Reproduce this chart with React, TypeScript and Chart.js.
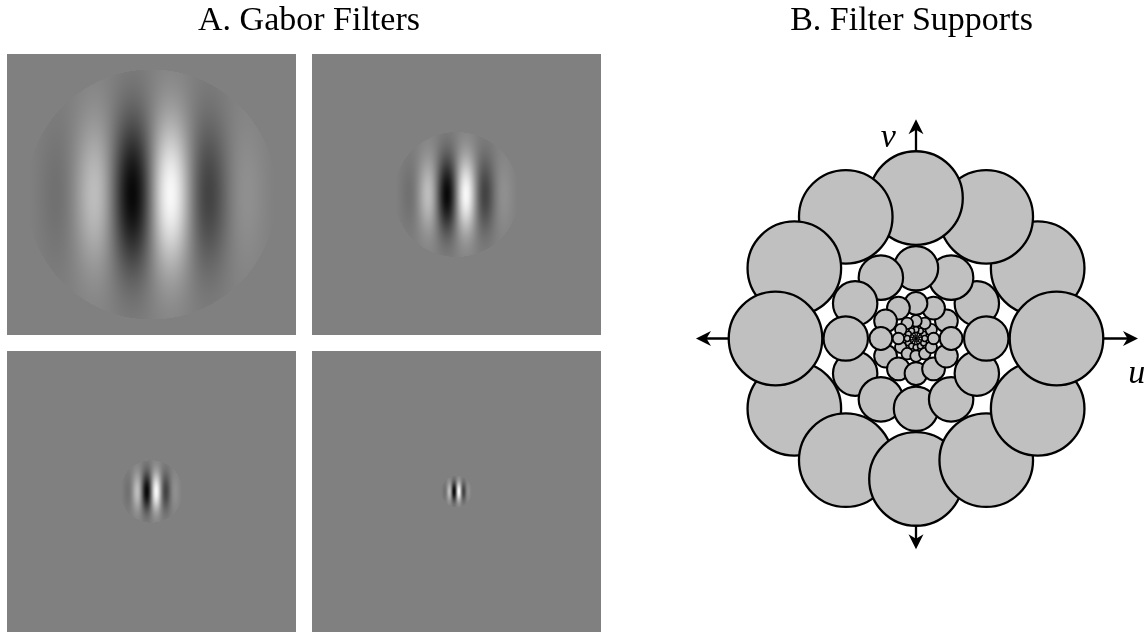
import React, { useEffect, useRef } from 'react';
import { Chart, registerables } from 'chart.js';

Chart.register(...registerables);

// ---------------- Data: A. Gabor filters (one per scale) ----------------
const filterNames = ['Scale 1', 'Scale 2', 'Scale 3', 'Scale 4'];
const filterWavelength = [82, 41, 20.5, 10.25]; // carrier period (image px)
const filterSigmaU = [48, 24, 12, 6]; // Gaussian sigma across stripes
const filterSigmaV = [52, 26, 13, 6.5]; // Gaussian sigma along stripes
const filterWindowRadius = [125, 62.5, 31.25, 15.6]; // circular support
const filterAmplitude = [130, 130, 130, 130]; // grey levels

// ---------------- Data: B. Filter supports (u, v plane) ----------------
const orientationsDeg = [30, 60, 90, 120, 150, 180];
const ringCenterFreq = [1, 0.5, 0.25, 0.125, 0.0625, 0.03125, 0.015625];
const ringSupportRadius = [0.333, 0.158, 0.081, 0.041, 0.0205, 0.0103, 0.0052];
const axisNames = ['u', 'v'];
const axisExtentU = [-1.566, 1.58];
const axisExtentV = [-1.5, 1.56];

// ---------------- Layout / style constants ----------------
const FONT_FAMILY = "'Liberation Serif', 'Times New Roman', serif";
const PANEL = { w: 289, h: 281, gapX: 16, gapY: 16 };
const RING_LINE_WIDTH = [2.3, 2.2, 2, 1.8, 1.5, 1.2, 0.9];
const SUPPORT_FILL = '#c0c0c0';
const GREY = 128;

const supportPoints: { x: number; y: number; size: number; ring: number }[] = [];
ringCenterFreq.forEach((f, ri) => {
  orientationsDeg.forEach((deg) => {
    [0, 180].forEach((off) => {
      const a = ((deg + off) * Math.PI) / 180;
      supportPoints.push({ x: f * Math.cos(a), y: f * Math.sin(a), size: ringSupportRadius[ri], ring: ri });
    });
  });
});

const titlePlugin = {
  id: 'figureTitle',
  afterDraw(chart: any, _args: any, opts: any) {
    const { ctx } = chart;
    ctx.save();
    ctx.font = `34px ${FONT_FAMILY}`;
    ctx.fillStyle = '#000';
    ctx.textAlign = 'center';
    ctx.textBaseline = 'alphabetic';
    ctx.fillText(opts.text, opts.x, opts.y);
    ctx.restore();
  },
};

const gaborPlugin = {
  id: 'gaborPanels',
  beforeDatasetsDraw(chart: any) {
    const { ctx } = chart;
    const xs = chart.scales.x;
    const ys = chart.scales.y;
    filterWavelength.forEach((lambda, i) => {
      const col = i % 2;
      const row = Math.floor(i / 2);
      const x0 = col * (PANEL.w + PANEL.gapX);
      const y0 = row * (PANEL.h + PANEL.gapY);
      const cx = x0 + PANEL.w / 2;
      const cy = y0 + PANEL.h / 2;
      const px0 = Math.round(xs.getPixelForValue(x0));
      const px1 = Math.round(xs.getPixelForValue(x0 + PANEL.w));
      const py0 = Math.round(ys.getPixelForValue(y0));
      const py1 = Math.round(ys.getPixelForValue(y0 + PANEL.h));
      const w = px1 - px0;
      const h = py1 - py0;
      const img = ctx.createImageData(w, h);
      const su = filterSigmaU[i];
      const sv = filterSigmaV[i];
      const R = filterWindowRadius[i];
      const A = filterAmplitude[i];
      for (let j = 0; j < h; j++) {
        const dy = ys.getValueForPixel(py0 + j + 0.5) - cy;
        for (let k = 0; k < w; k++) {
          const dx = xs.getValueForPixel(px0 + k + 0.5) - cx;
          let v = GREY;
          if (dx * dx + dy * dy <= R * R) {
            const env = Math.exp(-((dx * dx) / (2 * su * su) + (dy * dy) / (2 * sv * sv)));
            v = GREY + A * env * Math.sin((2 * Math.PI * dx) / lambda);
          }
          v = Math.max(0, Math.min(255, Math.round(v)));
          const o = (j * w + k) * 4;
          img.data[o] = v;
          img.data[o + 1] = v;
          img.data[o + 2] = v;
          img.data[o + 3] = 255;
        }
      }
      ctx.putImageData(img, px0, py0);
    });
  },
};

function arrowHead(ctx: CanvasRenderingContext2D, x: number, y: number, angle: number) {
  const len = 15;
  const half = 7.5;
  const notch = 4.5;
  ctx.save();
  ctx.translate(x, y);
  ctx.rotate(angle);
  ctx.beginPath();
  ctx.moveTo(0, 0);
  ctx.lineTo(-len, -half);
  ctx.lineTo(-len + notch, 0);
  ctx.lineTo(-len, half);
  ctx.closePath();
  ctx.fill();
  ctx.restore();
}

const axesPlugin = {
  id: 'uvAxes',
  beforeDatasetsDraw(chart: any) {
    const { ctx } = chart;
    const xs = chart.scales.x;
    const ys = chart.scales.y;
    const ox = xs.getPixelForValue(0);
    const oy = ys.getPixelForValue(0);
    const left = xs.getPixelForValue(axisExtentU[0]);
    const right = xs.getPixelForValue(axisExtentU[1]);
    const bottom = ys.getPixelForValue(axisExtentV[0]);
    const top = ys.getPixelForValue(axisExtentV[1]);
    ctx.save();
    ctx.strokeStyle = '#000';
    ctx.fillStyle = '#000';
    ctx.lineWidth = 2.3;
    ctx.beginPath();
    ctx.moveTo(left + 10, oy);
    ctx.lineTo(right - 10, oy);
    ctx.moveTo(ox, top + 10);
    ctx.lineTo(ox, bottom - 10);
    ctx.stroke();
    arrowHead(ctx, right, oy, 0);
    arrowHead(ctx, left, oy, Math.PI);
    arrowHead(ctx, ox, top, -Math.PI / 2);
    arrowHead(ctx, ox, bottom, Math.PI / 2);
    ctx.restore();
  },
  afterDatasetsDraw(chart: any) {
    const { ctx } = chart;
    const xs = chart.scales.x;
    const ys = chart.scales.y;
    ctx.save();
    ctx.font = `italic 34px ${FONT_FAMILY}`;
    ctx.fillStyle = '#000';
    ctx.textAlign = 'left';
    ctx.textBaseline = 'alphabetic';
    ctx.fillText(axisNames[0], xs.getPixelForValue(1.511), ys.getPixelForValue(-0.319));
    ctx.fillText(axisNames[1], xs.getPixelForValue(-0.251), ys.getPixelForValue(1.365));
    ctx.restore();
  },
};

export default function App() {
  const leftRef = useRef<HTMLCanvasElement | null>(null);
  const rightRef = useRef<HTMLCanvasElement | null>(null);

  useEffect(() => {
    const left = new Chart(leftRef.current as HTMLCanvasElement, {
      type: 'scatter',
      data: {
        datasets: [
          {
            label: 'Gabor filters',
            data: filterNames.map((_, i) => ({
              x: (i % 2) * (PANEL.w + PANEL.gapX) + PANEL.w / 2,
              y: Math.floor(i / 2) * (PANEL.h + PANEL.gapY) + PANEL.h / 2,
            })),
            pointRadius: 0,
          },
        ],
      },
      options: {
        responsive: false,
        animation: false,
        devicePixelRatio: 1,
        events: [],
        layout: { padding: { left: 7, right: 9, top: 54, bottom: 0 } },
        scales: {
          x: { type: 'linear', min: 0, max: 2 * PANEL.w + PANEL.gapX, display: false },
          y: { type: 'linear', min: 0, max: 2 * PANEL.h + PANEL.gapY, reverse: true, display: false },
        },
        plugins: {
          legend: { display: false },
          tooltip: { enabled: false },
          figureTitle: { text: 'A. Gabor Filters', x: 309, y: 30 },
        } as any,
      },
      plugins: [gaborPlugin, titlePlugin],
    });

    const right = new Chart(rightRef.current as HTMLCanvasElement, {
      type: 'bubble',
      data: {
        datasets: [
          {
            label: 'Filter supports',
            data: supportPoints as any,
            parsing: false,
            backgroundColor: SUPPORT_FILL,
            borderColor: '#000',
            borderWidth: (c: any) => (c.raw ? RING_LINE_WIDTH[c.raw.ring] : 1),
            radius: (c: any) => {
              if (!c.raw) return 0;
              const s = c.chart.scales.x;
              const r = Math.abs(s.getPixelForValue(c.raw.size) - s.getPixelForValue(0));
              return isFinite(r) ? r : 0;
            },
            clip: false,
          } as any,
        ],
      },
      options: {
        responsive: false,
        animation: false,
        devicePixelRatio: 1,
        events: [],
        layout: { padding: { left: 77, right: 0, top: 109.5, bottom: 64.5 } },
        scales: {
          x: { type: 'linear', min: -1.63, max: 1.63, display: false },
          y: { type: 'linear', min: -1.63, max: 1.63, display: false },
        },
        plugins: {
          legend: { display: false },
          tooltip: { enabled: false },
          figureTitle: { text: 'B. Filter Supports', x: 301.5, y: 30 },
        } as any,
      },
      plugins: [axesPlugin, titlePlugin],
    });

    return () => {
      left.destroy();
      right.destroy();
    };
  }, []);

  return (
    <div style={{ position: 'fixed', left: 0, top: 0, width: 1145, height: 632, background: '#fff', overflow: 'hidden' }}>
      <div style={{ position: 'absolute', left: 0, top: 0, width: 610, height: 632 }}>
        <canvas ref={leftRef} width={610} height={632} style={{ display: 'block', width: 610, height: 632 }} />
      </div>
      <div style={{ position: 'absolute', left: 610, top: 0, width: 535, height: 632 }}>
        <canvas ref={rightRef} width={535} height={632} style={{ display: 'block', width: 535, height: 632 }} />
      </div>
    </div>
  );
}
